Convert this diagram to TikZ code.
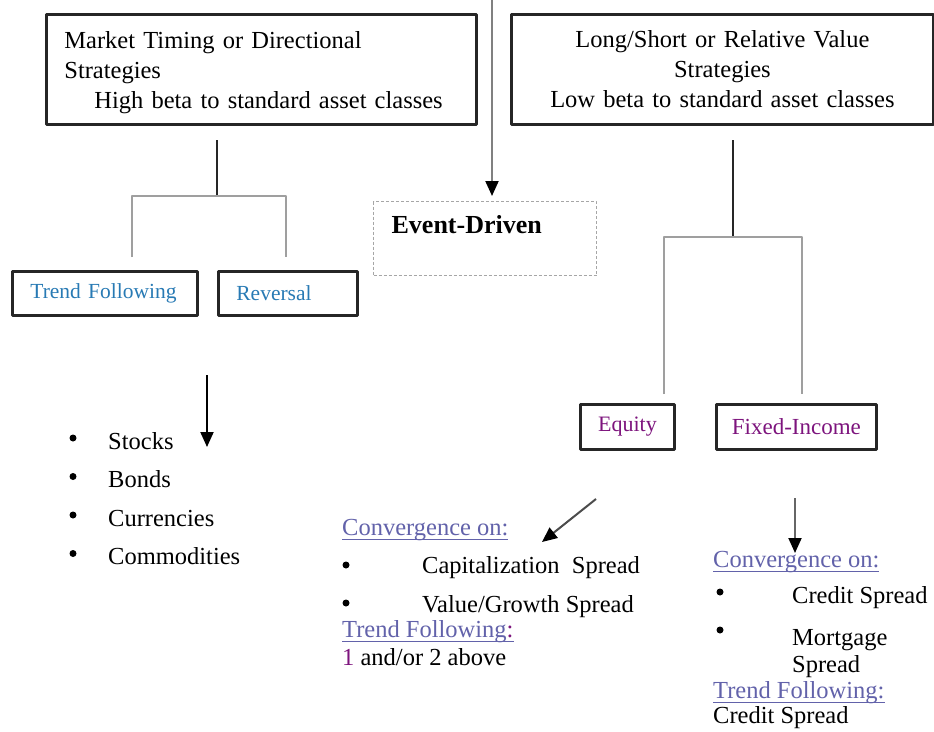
\documentclass[tikz,border=0pt]{standalone}
\usepackage{fontspec}
\setmainfont{Liberation Serif}
\usetikzlibrary{arrows.meta}
\definecolor{tfblue}{RGB}{40,122,180}
\definecolor{eqpurple}{RGB}{125,20,125}
\definecolor{cvlav}{RGB}{98,98,170}
\newcommand\cvline[1]{\setbox0\hbox{#1}\rlap{\rule[-5pt]{\wd0}{1.5pt}}\box0}
\tikzset{
	box/.style={draw=black!85, line width=2.8pt, inner xsep=18pt, inner ysep=0pt, anchor=north west},
	subbox/.style={box, minimum height=44pt, font=\fontsize{21.5}{24}\selectfont},
	tree/.style={draw=gray!75, line width=2pt},
	stem/.style={draw=black!85, line width=2.6pt},
	arr/.style={-{Triangle[width=13pt,length=15pt,black]}, line width=2pt},
	item/.style={anchor=base west, inner sep=0pt},
}
\begin{document}
\begin{tikzpicture}[x=1pt, y=-1pt, font=\fontsize{24.5}{30}\selectfont, line join=round]
	\useasboundingbox (0,0) rectangle (934,731);
	% top level
	\node[box, minimum width=430pt, minimum height=110pt, text width=394pt, align=left] (mt) at (45,13)
		{\rule{0pt}{23pt}Market Timing or Directional\\Strategies\\\hspace*{30pt}High beta to standard asset classes};
	\node[box, minimum width=422pt, minimum height=110pt, text width=386pt, align=center] (ls) at (510,13)
		{Long/Short or Relative Value\\Strategies\\Low beta to standard asset classes};
	\node[box, draw=gray!70, densely dashed, line width=1.3pt, minimum width=223pt, text width=187pt, align=left,
		text height=32pt, text depth=42pt, font=\fontsize{26}{30}\selectfont\bfseries] (ed) at (373,201) {Event-Driven};
	% second level
	\node[subbox, minimum width=185pt, text width=149pt, align=left, text=tfblue] (tf) at (11,270) {Trend Following};
	\node[subbox, minimum width=139pt, text width=103pt, align=left, text=tfblue] (rv) at (217,270) {Reversal};
	\node[subbox, minimum width=94pt, minimum height=45pt, inner xsep=0pt, text=eqpurple, font=\fontsize{22}{24}\selectfont] (eq) at (579,403) {Equity};
	\node[subbox, minimum width=160pt, minimum height=45pt, inner xsep=0pt, text=eqpurple, font=\fontsize{23}{24}\selectfont] (fi) at (715,403) {Fixed-Income};
	% trees
	\coordinate (mtout) at (217,140); \coordinate (tfin) at (132,257); \coordinate (rvin) at (286,257);
	\coordinate (lsout) at (733,140); \coordinate (eqin) at (664,394); \coordinate (fiin) at (802,394);
	\draw[stem] (mtout) -- (217,196) coordinate (lsplit);
	\draw[tree] (tfin) |- (lsplit) -| (rvin);
	\draw[stem] (lsout) -- (733,237) coordinate (rsplit);
	\draw[tree] (eqin) |- (rsplit) -| (fiin);
	% arrows
	\coordinate (topin) at (492,0);
	\coordinate (tfout) at (207,375); \coordinate (assetin) at (207,447);
	\coordinate (eqout) at (596,499); \coordinate (cvin) at (542,542);
	\coordinate (fiout) at (795,498); \coordinate (fcvin) at (795,553);
	\draw[arr, gray] (topin) -- ([yshift=5pt]ed.north -| topin);
	\draw[arr] (tfout) -- (assetin);
	\draw[arr, black!70] (eqout) -- (cvin);
	\draw[arr, black!60] (fiout) -- (fcvin);
	% asset list
	\foreach \t [count=\i] in {Stocks,Bonds,Currencies,Commodities}{
		\node[item] (asset\i) at (108,{449+38.5*(\i-1)}) {\t};
		\fill (73,{438+38.5*(\i-1)}) circle (3.5);
	}
	% equity convergence
	\node[item, text=cvlav] (cvhead) at (342,535) {\cvline{Convergence on:}};
	\node[item] (cap) at (422,573) {Capitalization\ \ Spread};
	\node[item] (vg) at (422,612) {Value/Growth Spread};
	\foreach \y in {565,603} \fill (346,\y) circle (3.5);
	\node[item, text=cvlav] (cvtf) at (342,637) {\cvline{Trend Following\textcolor{eqpurple}{:}}};
	\node[item] (cvab) at (342,665) {\textcolor{eqpurple}{1} and/or 2 above};
	% fixed-income convergence
	\node[item, text=cvlav] (fihead) at (713,567) {\cvline{Convergence on:}};
	\node[item] (cs) at (792,603) {Credit Spread};
	\node[item] (ms) at (792,645) {Mortgage};
	\node[item] (ms2) at (792,672) {Spread};
	\foreach \y in {592,630} \fill (720,\y) circle (3.5);
	\node[item, text=cvlav] (fitf) at (713,698) {\cvline{Trend Following:}};
	\node[item] (ficr) at (713,723) {Credit Spread};
\end{tikzpicture}
\end{document}
